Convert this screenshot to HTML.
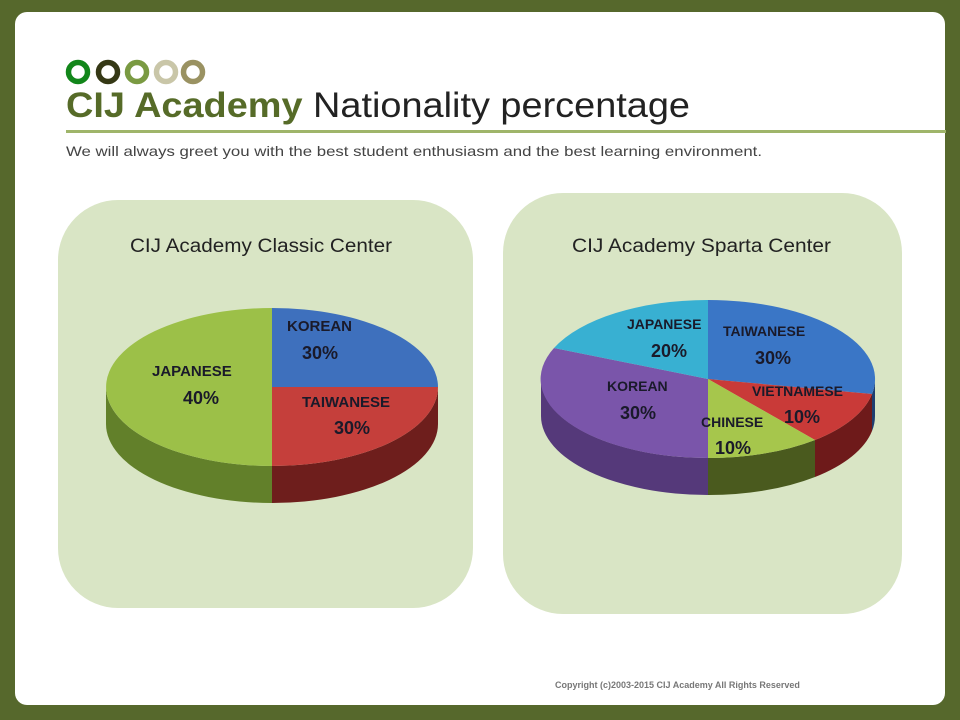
<!DOCTYPE html>
<html><head><meta charset="utf-8"><style>
html,body{margin:0;padding:0;background:#56682c;}
svg{display:block}
</style></head><body>
<svg width="960" height="720" viewBox="0 0 960 720" xmlns="http://www.w3.org/2000/svg" font-family="Liberation Sans, sans-serif">
<rect x="0" y="0" width="960" height="720" fill="#56682c"/>
<rect x="15" y="12" width="930" height="693" rx="12" fill="#ffffff"/>
<g fill="none" stroke-width="5.5">
<circle cx="78" cy="72" r="9.5" stroke="#12861a"/>
<circle cx="108" cy="72" r="9.5" stroke="#353815"/>
<circle cx="137" cy="72" r="9.5" stroke="#7a9a42"/>
<circle cx="166" cy="72" r="9.5" stroke="#c9c6a8"/>
<circle cx="193" cy="72" r="9.5" stroke="#9a9262"/>
</g>
<text x="66" y="117" font-size="35" fill="#222" textLength="624" lengthAdjust="spacingAndGlyphs"><tspan font-weight="bold" fill="#566b28">CIJ Academy</tspan> Nationality percentage</text>
<rect x="66" y="130" width="880" height="3" fill="#9fb56a"/>
<text x="66" y="156" font-size="14" fill="#444" textLength="696" lengthAdjust="spacingAndGlyphs">We will always greet you with the best student enthusiasm and the best learning environment.</text>

<rect x="58" y="200" width="415" height="408" rx="60" fill="#d9e5c5"/>
<rect x="503" y="193" width="399" height="421" rx="60" fill="#d9e5c5"/>
<text x="130" y="252" font-size="19" fill="#222" textLength="262" lengthAdjust="spacingAndGlyphs">CIJ Academy Classic Center</text>
<text x="572" y="252" font-size="19" fill="#222" textLength="259" lengthAdjust="spacingAndGlyphs">CIJ Academy Sparta Center</text>

<!-- left pie -->
<path d="M438,387 A166 79 0 0 1 272,466 L272,503 A166 79 0 0 0 438,424 Z" fill="#6e1e1c"/>
<path d="M272,466 A166 79 0 0 1 106,387 L106,424 A166 79 0 0 0 272,503 Z" fill="#62802a"/>
<path d="M272,387 L272,308 A166 79 0 0 1 438,387 Z" fill="#3e70bd"/>
<path d="M272,387 L438,387 A166 79 0 0 1 272,466 Z" fill="#c53f3b"/>
<path d="M272,387 L272,466 A166 79 0 0 1 272,308 Z" fill="#9cc048"/>
<g font-weight="bold" fill="#1a1a2a">
<text x="287" y="331" font-size="15">KOREAN</text>
<text x="302" y="359" font-size="18">30%</text>
<text x="302" y="407" font-size="15">TAIWANESE</text>
<text x="334" y="434" font-size="18">30%</text>
<text x="152" y="376" font-size="15">JAPANESE</text>
<text x="183" y="404" font-size="18">40%</text>
</g>

<!-- right pie -->
<path d="M875,379 A167 79 0 0 1 872,394 L872,431 A167 79 0 0 0 875,416 Z" fill="#1f3e70"/>
<path d="M872,394 A167 79 0 0 1 815,440 L815,477 A167 79 0 0 0 872,431 Z" fill="#6e1a1a"/>
<path d="M815,440 A167 79 0 0 1 708,458 L708,495 A167 79 0 0 0 815,477 Z" fill="#4a5a1e"/>
<path d="M708,458 A167 79 0 0 1 541,379 L541,416 A167 79 0 0 0 708,495 Z" fill="#55397a"/>
<path d="M708,379 L708,300 A167 79 0 0 1 872,394 Z" fill="#3a76c6"/>
<path d="M708,379 L872,394 A167 79 0 0 1 815,440 Z" fill="#c93a38"/>
<path d="M708,379 L815,440 A167 79 0 0 1 708,458 Z" fill="#a6c64c"/>
<path d="M708,379 L708,458 A167 79 0 0 1 554,348 Z" fill="#7a55aa"/>
<path d="M708,379 L554,348 A167 79 0 0 1 708,300 Z" fill="#38b0d2"/>
<g font-weight="bold" fill="#1a1a2a">
<text x="627" y="329" font-size="14">JAPANESE</text>
<text x="651" y="357" font-size="18">20%</text>
<text x="723" y="336" font-size="14">TAIWANESE</text>
<text x="755" y="364" font-size="18">30%</text>
<text x="752" y="396" font-size="14">VIETNAMESE</text>
<text x="784" y="423" font-size="18">10%</text>
<text x="701" y="427" font-size="14">CHINESE</text>
<text x="715" y="454" font-size="18">10%</text>
<text x="607" y="391" font-size="14">KOREAN</text>
<text x="620" y="419" font-size="18">30%</text>
</g>

<text x="555" y="688" font-size="9" font-weight="bold" fill="#777">Copyright (c)2003-2015 CIJ Academy All Rights Reserved</text>
</svg>
</body></html>
